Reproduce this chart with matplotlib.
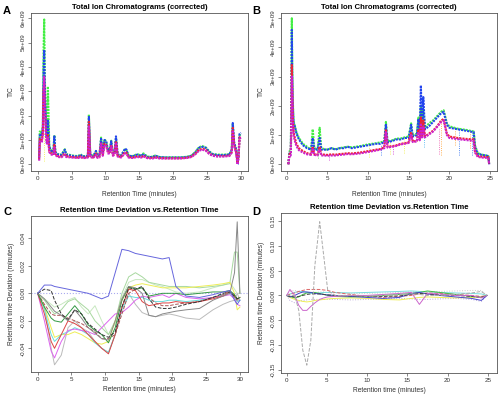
import matplotlib
matplotlib.use("Agg")
import matplotlib.pyplot as plt

plt.rcParams['font.family'] = ['Liberation Sans', 'DejaVu Sans']

# ---- panel A: TIC (corrected), run 1, intensities in 1e9 ----
tA = [0.2, 0.3, 0.6, 0.75, 0.85, 0.95, 1.05, 1.2, 1.35, 1.5, 1.7, 2.0, 2.3, 2.45, 2.6,
      3.0, 3.5, 4.0, 4.2, 4.6, 5.0, 5.5, 6.0, 6.3, 6.6, 7.0, 7.4, 7.55, 7.75, 8.2, 8.6,
      8.8, 9.1, 9.35, 9.6, 9.85, 10.1, 10.4, 10.65, 10.85, 11.1, 11.35, 11.55, 11.8,
      12.3, 12.9, 13.1, 13.4, 14.0, 14.7, 15.3, 15.6, 16.2, 17.0, 17.3, 18.0, 19.0,
      20.0, 21.0, 22.0, 22.7, 23.3, 23.8, 24.3, 24.8, 25.3, 25.8, 26.5, 27.5, 28.3,
      28.65, 28.8, 29.0, 29.3, 29.5, 29.65, 29.8, 30.0]
ticA_green = [0.3, 1.35, 1.3, 1.6, 4.6, 5.95, 3.5, 1.8, 1.2, 3.2, 0.75, 0.55, 0.5, 1.2, 0.5,
              0.42, 0.4, 0.62, 0.42, 0.4, 0.37, 0.35, 0.34, 0.42, 0.34, 0.34, 0.36, 2.05,
              0.42, 0.34, 0.55, 0.35, 0.36, 1.1, 0.46, 1.02, 0.95, 0.55, 0.62, 0.97, 0.46,
              0.5, 1.1, 0.42, 0.36, 0.62, 0.58, 0.36, 0.34, 0.42, 0.36, 0.45, 0.32, 0.31,
              0.36, 0.3, 0.29, 0.29, 0.29, 0.31, 0.36, 0.52, 0.7, 0.75, 0.7, 0.54, 0.43,
              0.4, 0.4, 0.42, 0.6, 1.65, 0.9, 0.6, 0.1, 0.3, 1.2, 1.25]
ticA_blue = [0.25, 1.25, 1.2, 1.5, 3.8, 4.7, 3.0, 1.6, 1.1, 1.8, 0.7, 0.55, 0.5, 1.15, 0.5,
             0.4, 0.38, 0.6, 0.4, 0.38, 0.35, 0.33, 0.32, 0.4, 0.32, 0.32, 0.35, 1.95,
             0.4, 0.32, 0.55, 0.33, 0.35, 1.05, 0.45, 1.0, 0.95, 0.55, 0.6, 0.95, 0.45,
             0.5, 1.15, 0.4, 0.35, 0.65, 0.6, 0.35, 0.33, 0.4, 0.35, 0.42, 0.3, 0.3,
             0.36, 0.3, 0.28, 0.28, 0.28, 0.3, 0.35, 0.5, 0.68, 0.72, 0.68, 0.52, 0.42,
             0.38, 0.38, 0.4, 0.6, 1.7, 0.9, 0.6, 0.05, 0.3, 1.25, 1.3]
ticA_red = [0.2, 1.05, 1.0, 1.3, 3.0, 3.3, 2.4, 1.3, 0.9, 1.2, 0.55, 0.45, 0.42, 0.8, 0.42,
            0.33, 0.32, 0.45, 0.33, 0.32, 0.3, 0.29, 0.28, 0.33, 0.28, 0.28, 0.3, 1.75,
            0.33, 0.28, 0.45, 0.29, 0.3, 0.9, 0.38, 0.85, 0.8, 0.47, 0.5, 0.8, 0.38,
            0.42, 0.95, 0.34, 0.3, 0.5, 0.48, 0.3, 0.28, 0.33, 0.3, 0.35, 0.27, 0.26,
            0.3, 0.26, 0.25, 0.25, 0.25, 0.27, 0.32, 0.45, 0.6, 0.64, 0.6, 0.46, 0.37,
            0.34, 0.34, 0.36, 0.5, 1.5, 0.8, 0.5, 0.1, 0.3, 1.1, 1.15]
ticA_magenta = [0.15, 0.95, 0.9, 1.2, 2.8, 3.6, 2.6, 1.2, 0.85, 1.1, 0.5, 0.4, 0.38, 0.7, 0.38,
                0.3, 0.29, 0.4, 0.3, 0.29, 0.28, 0.27, 0.26, 0.3, 0.26, 0.26, 0.28, 1.6,
                0.3, 0.26, 0.4, 0.27, 0.28, 0.85, 0.35, 0.8, 0.75, 0.44, 0.46, 0.75, 0.35,
                0.4, 0.9, 0.32, 0.28, 0.46, 0.44, 0.28, 0.26, 0.3, 0.28, 0.32, 0.25, 0.24,
                0.28, 0.24, 0.24, 0.24, 0.24, 0.26, 0.3, 0.42, 0.56, 0.6, 0.56, 0.43, 0.35,
                0.32, 0.32, 0.34, 0.48, 1.4, 0.75, 0.45, 0.0, 0.25, 1.05, 1.1]
# single-scan dropouts: time, low, high (1e9), colour
dropA_t = [0.9, 1.1, 29.55]
dropA_low = [0.12, 0.9, 0.0]
dropA_high = [1.3, 2.0, 0.4]
dropA_col = ['#eeee33', '#33ccee', '#2244ee']

# ---- panel B: TIC (corrected), run 2 ----
tB = [0.2, 0.35, 0.5, 0.58, 0.63, 0.68, 0.75, 0.85, 1.0, 1.2, 1.5, 2.0, 2.5, 3.0, 3.2, 3.4,
      3.8, 4.05, 4.25, 4.6, 5.0, 5.5, 6.0, 6.5, 7.0, 7.5, 8.0, 9.0, 10.0, 11.0, 11.5, 12.0,
      12.2, 12.4, 13.0, 13.5, 14.0, 14.5, 15.0, 15.3, 15.5, 16.0, 16.2, 16.35, 16.5, 16.65,
      16.8, 17.0, 17.5, 18.0, 18.5, 19.0, 19.3, 19.7, 20.0, 21.0, 22.0, 23.0, 23.15, 23.5,
      24.0, 24.5, 24.8, 24.9]
ticB_green = [0.0, 0.45, 0.45, 2.5, 5.0, 3.5, 2.2, 1.5, 1.3, 1.1, 0.9, 0.7, 0.6, 0.5, 1.2, 0.55,
              0.5, 1.25, 0.55, 0.52, 0.5, 0.55, 0.52, 0.55, 0.58, 0.6, 0.58, 0.62, 0.68, 0.72,
              0.75, 0.78, 1.45, 0.78, 0.82, 0.88, 0.88, 0.92, 0.95, 1.4, 0.98, 1.05, 1.6, 1.1,
              2.0, 1.15, 1.9, 1.25, 1.4, 1.5, 1.65, 1.8, 1.85, 1.4, 1.3, 1.22, 1.18, 1.12,
              0.65, 0.38, 0.33, 0.3, 0.28, 0.0]
ticB_blue = [0.0, 0.4, 0.4, 2.0, 4.6, 3.2, 2.0, 1.4, 1.3, 1.05, 0.85, 0.65, 0.55, 0.5, 0.9, 0.5,
             0.5, 0.9, 0.5, 0.5, 0.5, 0.55, 0.5, 0.55, 0.55, 0.6, 0.55, 0.6, 0.65, 0.7,
             0.7, 0.75, 1.35, 0.75, 0.8, 0.85, 0.85, 0.9, 0.9, 1.35, 0.95, 1.0, 1.55, 1.05,
             2.7, 1.1, 2.3, 1.2, 1.3, 1.45, 1.6, 1.75, 1.8, 1.35, 1.25, 1.2, 1.15, 1.1,
             0.6, 0.35, 0.32, 0.3, 0.28, 0.0]
ticB_red = [0.0, 0.35, 0.35, 1.5, 3.4, 2.6, 1.6, 1.1, 0.9, 0.7, 0.55, 0.45, 0.38, 0.35, 0.6, 0.35,
            0.33, 0.6, 0.34, 0.33, 0.32, 0.34, 0.33, 0.35, 0.36, 0.38, 0.37, 0.4, 0.45, 0.5,
            0.52, 0.58, 1.2, 0.6, 0.62, 0.65, 0.7, 0.72, 0.75, 1.1, 0.78, 0.8, 1.2, 0.85,
            1.6, 0.9, 1.5, 0.95, 1.05, 1.15, 1.3, 1.5, 1.55, 1.05, 0.95, 0.9, 0.87, 0.85,
            0.45, 0.28, 0.26, 0.25, 0.24, 0.0]
ticB_magenta = [0.0, 0.3, 0.3, 1.3, 3.0, 2.4, 1.5, 1.0, 0.8, 0.62, 0.48, 0.4, 0.34, 0.32, 0.55, 0.32,
                0.3, 0.5, 0.3, 0.3, 0.29, 0.3, 0.3, 0.32, 0.33, 0.35, 0.34, 0.37, 0.42, 0.47,
                0.5, 0.55, 1.1, 0.57, 0.6, 0.63, 0.68, 0.7, 0.73, 1.0, 0.76, 0.78, 1.1, 0.82,
                1.4, 0.88, 1.3, 0.92, 1.02, 1.12, 1.28, 1.45, 1.5, 1.0, 0.9, 0.86, 0.83, 0.8,
                0.4, 0.25, 0.23, 0.22, 0.2, 0.0]
dropB_t = [3.8, 5.2, 10.1, 11.6, 12.7, 13.1, 14.4, 16.9, 18.7, 19.0, 20.7, 21.2, 22.6, 22.8]
dropB_low = [0.2, 0.15, 0.25, 0.3, 0.35, 0.35, 0.4, 0.6, 0.35, 0.3, 0.65, 0.3, 0.55, 0.3]
dropB_high = [0.5, 0.35, 0.65, 0.7, 0.8, 0.6, 0.85, 1.2, 1.2, 1.6, 1.2, 1.2, 1.15, 1.1]
dropB_col = ['#44ee44', '#cc22cc', '#eeee33', '#2266ee', '#eeee33', '#cc22cc', '#eeee33',
             '#33aaee', '#ee55aa', '#ff9922', '#ff9922', '#2266ee', '#ff9922', '#2266ee']

# ---- panel C: retention time deviation, run 1 (minutes) ----
tC = [0, 1, 2, 2.5, 3.5, 4.5, 5.5, 6.5, 7.5, 8.5, 9.5, 10.5, 11.5, 12.5, 13.5, 14.5, 15.5,
      16.5, 17.5, 18.5, 19.5, 20.5, 22, 24, 26, 27.5, 28.5, 29.2, 29.6, 30]
devC_blue = [0, .006, .006, .005, .004, .003, .002, .001, 0, -.002, -.004, -.002, .015, .032,
             .031, .029, .028, .027, .026, .025, .026, .005, -.002, -.003, -.001, .001, .002,
             -.005, -.008, -.005]
devC_black = [0, .003, .002, -.005, -.015, -.019, -.012, -.015, -.022, -.026, -.03, -.032, -.028,
              -.01, .004, .003, .005, -.004, -.01, -.011, -.011, -.01, -.008, -.006, -.003, 0,
              .001, -.002, -.004, -.003]
devC_gray = [0, -.004, -.01, -.013, -.016, -.02, -.012, -.018, -.025, -.029, -.033, -.034, -.02,
             -.004, .005, .004, 0, -.016, -.017, -.015, -.014, -.013, -.012, -.011, -.005, -.002,
             0, .015, .052, 0]
devC_lightgray = [0, -.01, -.04, -.052, -.045, -.025, -.02, -.025, -.028, -.035, -.04, -.043, -.03,
                  -.01, 0, -.008, -.014, -.016, -.017, -.016, -.015, -.016, -.018, -.019, -.012,
                  -.008, -.006, -.005, 0, -.005]
devC_violet = [0, -.02, -.042, -.047, -.035, -.027, -.026, -.027, -.028, -.03, -.025, -.02, -.015,
               -.014, -.01, -.005, -.002, -.003, -.002, -.001, -.003, 0, -.003, -.004, -.003,
               -.002, -.001, -.004, -.008, -.009]
devC_red = [0, -.015, -.035, -.04, -.03, -.02, -.022, -.025, -.03, -.035, -.04, -.044, -.03, -.01,
            .003, .002, -.006, -.009, -.008, -.007, -.007, -.006, -.007, -.006, -.004, -.002,
            .001, -.002, -.004, -.003]
devC_yellow = [0, -.01, -.025, -.032, -.03, -.03, -.028, -.03, -.033, -.036, -.037, -.035, -.02,
               -.005, .004, .006, .007, .006, .005, .004, .004, .004, .004, .005, .006, .007,
               .008, 0, -.012, -.01]
devC_cyan = [0, -.012, -.03, -.035, -.03, -.028, -.025, -.027, -.03, -.036, -.04, -.043, -.03,
             -.012, -.002, -.003, -.003, -.005, -.006, -.006, -.005, -.005, -.006, -.005, -.003,
             -.001, 0, -.003, -.006, -.005]
devC_green = [0, -.01, -.018, -.02, -.021, -.015, -.009, -.015, -.023, -.027, -.03, -.036, -.025,
              -.005, .005, .003, .004, -.002, -.001, 0, 0, 0, -.001, 0, .001, .001, .002, -.001,
              -.004, -.003]
devC_lightgreen = [0, -.005, -.012, -.015, -.012, -.006, -.004, -.008, -.012, -.02, -.025, -.03,
                   -.02, 0, .012, .015, .012, .008, .007, .006, .005, .005, .005, .004, .005,
                   .006, .007, .03, .03, 0]
devC_palegreen = [0, -.004, -.008, -.01, -.008, -.005, -.003, -.01, -.015, -.009, -.02, -.03,
                  -.022, -.003, .008, .01, .01, .008, .006, .005, .003, .001, 0, .001, .004,
                  .006, .008, .003, 0, 0]
devC_brown = [0, -.008, -.015, -.016, -.016, -.018, -.02, -.022, -.025, -.028, -.033, -.033, -.03,
              -.015, 0, .003, .004, -.003, -.007, -.009, -.009, -.008, -.007, -.006, -.003,
              -.001, .002, -.003, -.005, -.004]
ref_dev = 0.0

# ---- panel D: retention time deviation, run 2 (minutes) ----
tD = [0, 0.4, 1.0, 1.5, 2.0, 2.5, 3.0, 3.5, 4.1, 4.6, 5.1, 6, 8, 10, 12, 14, 15.5, 16.5, 17.5,
      19, 21, 23, 24.2, 24.9]
devD_gray = [0, 0.0, 0.0, -0.03, -0.11, -0.14, -0.09, 0.06, 0.148, 0.08, 0.01, 0.0, 0.0,
             -0.002, 0.0, 0.002, 0.003, 0.002, 0.0, 0.0, 0.002, 0.005, 0.008, 0.0]
devD_magenta = [0, 0.012, 0.0, -0.02, -0.03, -0.03, -0.022, -0.015, -0.008, -0.005, -0.003,
                -0.002, 0.0, 0.0, 0.002, 0.004, 0.006, -0.018, 0.004, 0.003, 0.0, 0.0, -0.005, 0.0]
devD_red = [0, 0.002, 0.005, 0.008, 0.01, 0.012, 0.012, 0.012, 0.012, 0.011, 0.01, 0.006, 0.002,
            -0.002, -0.004, -0.002, 0.0, 0.003, 0.005, 0.004, 0.002, 0.0, -0.002, 0.0]
devD_blue = [0, -0.003, 0.0, 0.004, 0.007, 0.007, 0.006, 0.004, 0.003, 0.002, 0.001, 0.0, -0.002,
             -0.004, -0.006, -0.004, 0.004, 0.006, 0.003, 0.0, -0.003, -0.006, -0.01, 0.0]
devD_green = [0, -0.002, -0.005, -0.003, 0.002, 0.005, 0.006, 0.006, 0.004, 0.002, 0.0, -0.002,
              -0.003, -0.002, 0.0, 0.002, 0.004, 0.006, 0.009, 0.006, 0.002, -0.002, -0.004, 0.0]
devD_yellow = [0, -0.004, -0.008, -0.01, -0.012, -0.013, -0.012, -0.01, -0.009, -0.008, -0.007,
               -0.006, -0.005, -0.006, -0.008, -0.009, -0.006, -0.004, -0.003, -0.004, -0.005,
               -0.004, -0.003, 0.0]
devD_cyan = [0, 0.003, 0.006, 0.008, 0.008, 0.006, 0.004, 0.004, 0.005, 0.006, 0.006, 0.006,
             0.005, 0.006, 0.007, 0.008, 0.009, 0.008, 0.007, 0.006, 0.005, 0.004, 0.003, 0.0]
devD_lilac = [0, -0.01, -0.015, -0.012, -0.01, -0.009, -0.008, -0.008, -0.008, -0.008, -0.008,
              -0.008, -0.009, -0.008, -0.007, -0.006, -0.007, -0.008, -0.008, -0.007, -0.006,
              -0.008, -0.012, 0.0]
devD_black = [0, -0.002, -0.003, -0.002, 0.0, 0.002, 0.003, 0.003, 0.003, 0.002, 0.001, 0.0,
              -0.001, -0.002, -0.002, -0.001, 0.002, 0.004, 0.003, 0.001, 0.0, -0.002, -0.004, 0.0]
devD_lightgray = [0, 0.008, 0.01, 0.008, 0.006, 0.005, 0.005, 0.006, 0.007, 0.007, 0.006, 0.005,
                  0.004, 0.004, 0.005, 0.006, 0.007, 0.008, 0.008, 0.008, 0.009, 0.01, 0.01, 0.0]

ticA_ticks = [0, 1, 2, 3, 4, 5, 6]
ticB_ticks = [0, 1, 2, 3, 4, 5]
devC_ticks = [-0.04, -0.02, 0.0, 0.02, 0.04]
devD_ticks = [-0.15, -0.10, -0.05, 0.0, 0.05, 0.10, 0.15]

fig = plt.figure(figsize=(5.0, 3.96), dpi=100)
axA = fig.add_axes([0.062, 0.569, 0.434, 0.399])
axB = fig.add_axes([0.562, 0.569, 0.432, 0.399])
axC = fig.add_axes([0.062, 0.0614, 0.434, 0.393])
axD = fig.add_axes([0.562, 0.059, 0.432, 0.4025])

ls_dot = (0, (1.0, 0.5))
axA.vlines(dropA_t, [v * 1e9 for v in dropA_low], [v * 1e9 for v in dropA_high],
           colors=dropA_col, lw=0.6, linestyles=':')
for y, col in [(ticA_green, '#44ee44'), (ticA_blue, '#2244ee'),
               (ticA_red, '#ee2233'), (ticA_magenta, '#cc22cc')]:
    axA.plot(tA, [v * 1e9 for v in y], color=col, lw=1.5, ls=ls_dot)

axB.vlines(dropB_t, [v * 1e9 for v in dropB_low], [v * 1e9 for v in dropB_high],
           colors=dropB_col, lw=0.6, linestyles=':')
for y, col in [(ticB_green, '#44ee44'), (ticB_blue, '#2244ee'),
               (ticB_red, '#ee2233'), (ticB_magenta, '#cc22cc')]:
    axB.plot(tB, [v * 1e9 for v in y], color=col, lw=1.5, ls=ls_dot)

axC.axhline(ref_dev, color='#aaaaee', lw=0.8, ls=':')
for y, col, ls in [(devC_palegreen, '#c8e8c0', '-'), (devC_lightgreen, '#a8d8a0', '-'),
                   (devC_lightgray, '#bbbbbb', '-'), (devC_yellow, '#eeee55', '-'),
                   (devC_cyan, '#66dddd', '-'), (devC_violet, '#dd66ee', '-'),
                   (devC_red, '#dd4444', '-'), (devC_brown, '#aa5555', '--'),
                   (devC_green, '#339944', '-'), (devC_gray, '#888888', '-'),
                   (devC_black, '#333333', '--'), (devC_blue, '#6666dd', '-')]:
    axC.plot(tC, y, color=col, lw=0.7, ls=ls)

for y, col, ls in [(devD_lightgray, '#cccccc', ':'), (devD_lilac, '#bbaadd', ':'),
                   (devD_yellow, '#eeee55', '-'), (devD_cyan, '#77dddd', '-'),
                   (devD_red, '#dd6666', '--'), (devD_green, '#44bb44', '-'),
                   (devD_blue, '#4444cc', '-'), (devD_black, '#444444', '--'),
                   (devD_magenta, '#cc66cc', '-'), (devD_gray, '#aaaaaa', '--')]:
    axD.plot(tD, y, color=col, lw=0.7, ls=ls)

axA.set_xlim(-1.0, 31.05)
axA.set_ylim(-0.26e9, 6.23e9)
axB.set_xlim(-0.7, 25.86)
axB.set_ylim(-0.22e9, 5.19e9)
axC.set_xlim(-0.99, 31.2)
axC.set_ylim(-0.057, 0.0562)
axD.set_xlim(-0.71, 26.15)
axD.set_ylim(-0.155, 0.165)

axA.set_xticks([0, 5, 10, 15, 20, 25, 30])
axC.set_xticks([0, 5, 10, 15, 20, 25, 30])
axB.set_xticks([0, 5, 10, 15, 20, 25])
axD.set_xticks([0, 5, 10, 15, 20, 25])
axA.set_yticks([v * 1e9 for v in ticA_ticks], [f"{v * 1e9:.0e}" for v in ticA_ticks])
axB.set_yticks([v * 1e9 for v in ticB_ticks], [f"{v * 1e9:.0e}" for v in ticB_ticks])
axC.set_yticks(devC_ticks, [f"{v:.2f}" for v in devC_ticks])
axD.set_yticks(devD_ticks, [f"{v:.2f}" for v in devD_ticks])

for ax in [axA, axB, axC, axD]:
    for s in ax.spines.values():
        s.set_color('#555555')
        s.set_linewidth(0.6)
    ax.tick_params(length=2, width=0.5, color='#555555', labelsize=4.5,
                   labelcolor='#333333', pad=2)
    for lab in ax.get_yticklabels():
        lab.set_rotation(90)
        lab.set_va('center')

for ax in [axA, axB]:
    ax.set_title("Total Ion Chromatograms (corrected)", fontsize=5.6,
                 fontweight='bold', pad=3)
    ax.set_xlabel("Retention Time (minutes)", fontsize=4.8, color='#333333', labelpad=7)
    ax.set_ylabel("TIC", fontsize=4.8, color='#333333', labelpad=4)
for ax in [axC, axD]:
    ax.set_title("Retention time Deviation vs.Retention Time", fontsize=5.6,
                 fontweight='bold', pad=3)
    ax.set_xlabel("Retention time (minutes)", fontsize=4.8, color='#333333', labelpad=3)
    ax.set_ylabel("Retention time Deviation (minutes)", fontsize=4.8, color='#333333',
                  labelpad=4)

for lab, x, y in [("A", 0.006, 0.985), ("B", 0.504, 0.985),
                  ("C", 0.006, 0.478), ("D", 0.504, 0.478)]:
    fig.text(x, y, lab, fontsize=8, fontweight='bold', va='top', ha='left')

fig.savefig("out.png", dpi=100)
